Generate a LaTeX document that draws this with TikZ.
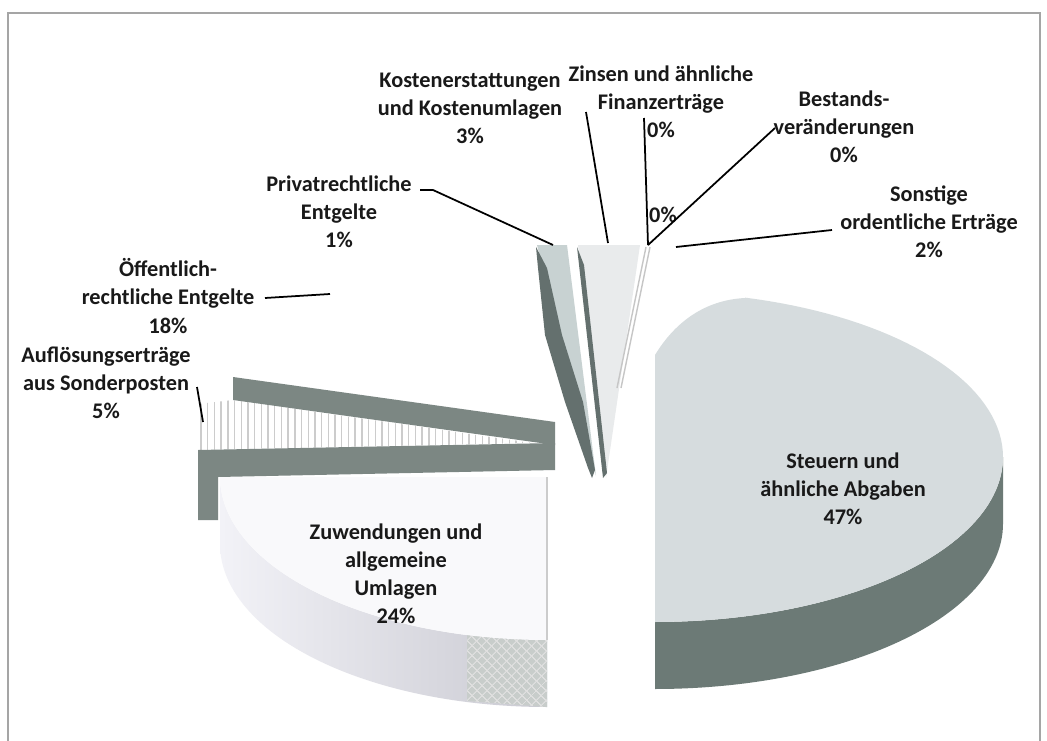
\documentclass[tikz,border=0pt]{standalone}
\usepackage{fontspec}
\setmainfont{Carlito}
\usetikzlibrary{patterns.meta}
\definecolor{steuerTop}{RGB}{214,220,222}
\definecolor{steuerSide}{RGB}{108,122,118}
\definecolor{privTop}{RGB}{200,210,210}
\definecolor{darkEdge}{RGB}{100,112,110}
\definecolor{kostTop}{RGB}{233,235,236}
\definecolor{barGray}{RGB}{124,135,131}
\definecolor{zuwTop}{RGB}{249,249,251}
\definecolor{zuwSideL}{RGB}{242,242,247}
\definecolor{zuwSideR}{RGB}{202,202,210}
\definecolor{hatchBase}{RGB}{200,205,203}
\definecolor{frameC}{RGB}{165,165,165}
\definecolor{txt}{RGB}{25,25,25}
\begin{document}
\begin{tikzpicture}[x=0.02cm,y=-0.02cm,
  lbl/.style={align=center,font=\fontsize{12.7}{16}\selectfont\bfseries,text=txt,inner sep=0pt},
  leader/.style={draw=black,line width=1pt},
  bar/.style={fill=barGray},
  stripe/.style={draw=gray!40,line width=0.8pt},
  thinedge/.style={draw=gray!45,line width=0.8pt}]
\useasboundingbox (0,0) rectangle (1047,740);
\fill[white] (0,0) rectangle (1047,740);
\draw[frameC,line width=0.8pt] (8,745) -- (8,13) -- (1040,13) -- (1040,745);

% Steuern slice
\fill[steuerSide] plot[domain=90:180,samples=60] ({655+348*sin(\x)},{457-165*cos(\x)})
  -- plot[domain=180:90,samples=60] ({655+348*sin(\x)},{524-165*cos(\x)}) -- cycle;
\fill[steuerTop] (655,622) -- (655,355) .. controls (675,322) and (705,300) .. (745,298)
  -- plot[domain=15:180,samples=80] ({655+348*sin(\x)},{457-165*cos(\x)}) -- cycle;

% Zuwendungen slice
\shade[left color=zuwSideL,right color=zuwSideR]
  plot[domain=270:180,samples=60] ({547+327*sin(\x)},{477-163*cos(\x)})
  -- plot[domain=180:270,samples=60] ({547+327*sin(\x)},{544-163*cos(\x)}) -- cycle;
\fill[hatchBase] (467,634) -- (547,640) -- (547,707) -- (467,701) -- cycle;
\fill[pattern={Hatch[angle=45,distance=4pt,line width=0.6pt]},pattern color=white!75!gray]
  (467,634) -- (547,640) -- (547,707) -- (467,701) -- cycle;
\fill[zuwTop] (547,477) -- (220,477)
  -- plot[domain=270:180,samples=60] ({547+327*sin(\x)},{477-163*cos(\x)}) -- cycle;
\draw[gray!40,line width=0.6pt] (547,477) -- (547,640);

% Aufloesungsertraege top face (stripes)
\begin{scope}
  \clip (198,404) -- (233,400) -- (533,443) -- (198,450) -- cycle;
  \foreach \s in {201,207.7,...,535} \draw[stripe] (\s,395) -- (\s,455);
\end{scope}
% cut faces
\fill[bar] (198,450) -- (555,443) -- (555,470) -- (218,477) -- (218,520) -- (198,520) -- cycle;
\fill[bar] (233,377) -- (555,422) -- (555,445) -- (233,400) -- cycle;

% Privatrechtliche Entgelte slice
\fill[privTop] (537,245) -- (567,245) -- (596,476) -- cycle;
\fill[darkEdge] (536,247) -- (547,268) -- (562,335) -- (583,402) -- (595,470) -- (592,478)
  -- (588,468) -- (565,402) -- (545,335) -- (538,268) -- cycle;

% Kostenerstattungen slice
\fill[kostTop] (578,245) -- (640,245) -- (606,478) -- cycle;
\fill[darkEdge] (577,247) -- (584,265) -- (607,473) -- (603,478) -- cycle;

% 0% slices
\draw[thinedge] (646,247) -- (617,388);
\draw[thinedge] (650,247) -- (621,388);

% labels
\node[lbl] (kost) at (470,108) {Kostenerstattungen\\und Kostenumlagen\\3\%};
\node[lbl] (zins) at (661,102) {Zinsen und ähnliche\\Finanzerträge\\0\%};
\node[lbl] (best) at (844,127) {Bestands-\\veränderungen\\0\%};
\node[lbl] (sonst) at (929,222) {Sonstige\\ordentliche Erträge\\2\%};
\node[lbl] (priv) at (339,212) {Privatrechtliche\\Entgelte\\1\%};
\node[lbl] (oeff) at (168,296) {Öffentlich-\\rechtliche Entgelte\\18\%};
\node[lbl] (aufl) at (106,383) {Auflösungserträge\\aus Sonderposten\\5\%};
\node[lbl] (zuw) at (396,574) {Zuwendungen und\\allgemeine\\Umlagen\\24\%};
\node[lbl] (steu) at (843,489) {Steuern und\\ähnliche Abgaben\\47\%};
\node[lbl] (null) at (663,215) {0\%};

% leader lines
\coordinate (kostA) at (586,112); \coordinate (kostB) at (608,243);
\coordinate (zinsA) at (644,118); \coordinate (zinsB) at (648,245);
\coordinate (bestA) at (775,128); \coordinate (bestB) at (648,245);
\coordinate (sonstA) at (832,230); \coordinate (sonstB) at (676,247);
\coordinate (privA) at (420,190); \coordinate (privM) at (433,190); \coordinate (privB) at (553,245);
\coordinate (oeffA) at (265,298); \coordinate (oeffB) at (330,294);
\coordinate (auflA) at (197,387); \coordinate (auflB) at (203,422);
\draw[leader] (kostA) -- (kostB);
\draw[leader] (zinsA) -- (zinsB);
\draw[leader] (bestA) -- (bestB);
\draw[leader] (sonstA) -- (sonstB);
\draw[leader] (privA) -- (privM) -- (privB);
\draw[leader] (oeffA) -- (oeffB);
\draw[leader] (auflA) -- (auflB);
\end{tikzpicture}
\end{document}
